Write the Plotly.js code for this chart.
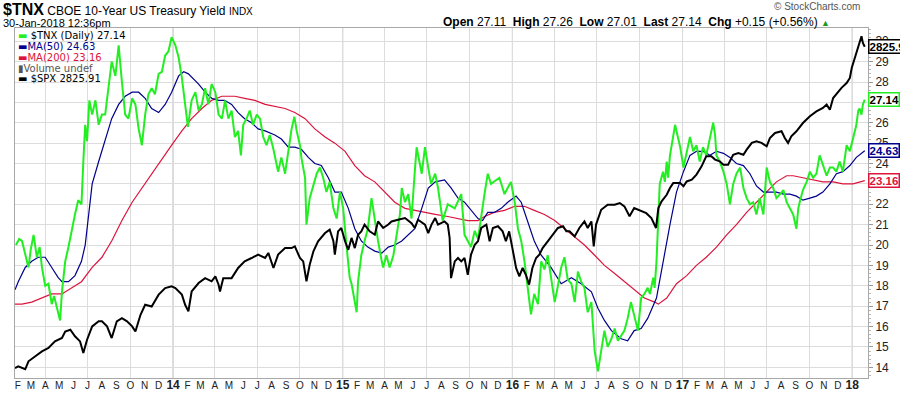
<!DOCTYPE html>
<html><head><meta charset="utf-8">
<script src="https://cdn.plot.ly/plotly-3.0.1.min.js"></script>
<style>html,body{margin:0;padding:0;background:#fff}#chart{width:900px;height:396px}</style>
</head><body><div id="chart"></div>
<script>
// ---- data ----
const tnxDates = ["2013-01-28","2013-02-04","2013-02-10","2013-02-17","2013-02-24","2013-03-01","2013-03-07","2013-03-14","2013-03-20","2013-03-25","2013-04-01","2013-04-08","2013-04-15","2013-04-20","2013-04-26","2013-05-03","2013-05-07","2013-05-14","2013-05-21","2013-05-28","2013-06-04","2013-06-11","2013-06-18","2013-06-22","2013-06-26","2013-06-30","2013-07-05","2013-07-11","2013-07-18","2013-07-25","2013-08-01","2013-08-08","2013-08-15","2013-08-22","2013-08-30","2013-09-06","2013-09-13","2013-09-20","2013-09-27","2013-10-05","2013-10-12","2013-10-19","2013-10-26","2013-11-02","2013-11-09","2013-11-16","2013-11-23","2013-12-01","2013-12-08","2013-12-15","2013-12-22","2013-12-29","2014-01-06","2014-01-13","2014-01-20","2014-01-27","2014-02-02","2014-02-10","2014-02-18","2014-02-25","2014-03-04","2014-03-11","2014-03-18","2014-03-25","2014-04-02","2014-04-09","2014-04-16","2014-04-23","2014-04-30","2014-05-07","2014-05-14","2014-05-21","2014-05-27","2014-06-01","2014-06-08","2014-06-15","2014-06-22","2014-06-30","2014-07-07","2014-07-14","2014-07-21","2014-07-28","2014-08-04","2014-08-15","2014-08-22","2014-08-30","2014-09-06","2014-09-13","2014-09-19","2014-09-24","2014-10-01","2014-10-04","2014-10-12","2014-10-15","2014-10-22","2014-10-30","2014-11-06","2014-11-13","2014-11-20","2014-11-27","2014-12-04","2014-12-12","2014-12-19","2014-12-26","2015-01-02","2015-01-09","2015-01-16","2015-01-20","2015-01-27","2015-01-31","2015-02-03","2015-02-10","2015-02-17","2015-02-24","2015-03-04","2015-03-11","2015-03-18","2015-03-26","2015-03-29","2015-04-05","2015-04-12","2015-04-20","2015-04-27","2015-05-04","2015-05-08","2015-05-15","2015-05-22","2015-05-29","2015-06-05","2015-06-09","2015-06-20","2015-06-27","2015-07-04","2015-07-10","2015-07-19","2015-07-25","2015-08-04","2015-08-15","2015-08-30","2015-09-13","2015-09-20","2015-10-04","2015-10-12","2015-10-19","2015-11-02","2015-11-09","2015-11-16","2015-12-04","2015-12-15","2015-12-29","2016-01-06","2016-01-13","2016-01-20","2016-01-27","2016-02-03","2016-02-10","2016-02-17","2016-02-25","2016-03-03","2016-03-10","2016-03-17","2016-03-24","2016-04-01","2016-04-08","2016-04-15","2016-04-22","2016-04-29","2016-05-07","2016-05-14","2016-05-21","2016-05-28","2016-06-04","2016-06-11","2016-06-19","2016-06-26","2016-07-03","2016-07-10","2016-07-17","2016-07-24","2016-08-01","2016-08-08","2016-08-15","2016-08-29","2016-09-05","2016-09-12","2016-09-19","2016-09-27","2016-10-04","2016-10-11","2016-10-18","2016-10-23","2016-10-30","2016-11-02","2016-11-06","2016-11-10","2016-11-13","2016-11-20","2016-11-24","2016-11-28","2016-12-01","2016-12-05","2016-12-16","2016-12-19","2016-12-27","2017-01-03","2017-01-10","2017-01-17","2017-01-24","2017-01-31","2017-02-07","2017-02-14","2017-02-21","2017-03-01","2017-03-08","2017-03-12","2017-03-15","2017-03-22","2017-03-30","2017-04-06","2017-04-13","2017-04-20","2017-04-27","2017-05-05","2017-05-12","2017-05-19","2017-05-26","2017-06-02","2017-06-09","2017-06-16","2017-06-24","2017-07-01","2017-07-08","2017-07-15","2017-07-22","2017-07-30","2017-08-06","2017-08-13","2017-08-20","2017-08-27","2017-09-03","2017-09-07","2017-09-10","2017-09-17","2017-09-25","2017-10-02","2017-10-09","2017-10-16","2017-10-23","2017-10-30","2017-11-07","2017-11-14","2017-11-21","2017-11-28","2017-12-05","2017-12-12","2017-12-20","2017-12-27","2018-01-03","2018-01-07","2018-01-10","2018-01-14","2018-01-17","2018-01-21","2018-01-24","2018-01-28"];
const tnxValues = [20.0,20.3,20.2,19.6,18.9,19.8,20.5,19.4,19.9,18.9,18.0,18.1,17.1,17.5,16.9,16.3,17.7,19.2,19.9,20.8,21.5,22.2,22.0,24.1,25.9,25.1,27.1,26.4,27.1,25.9,26.4,26.4,27.7,29.0,28.3,29.8,28.0,26.4,26.2,27.2,26.9,25.7,24.9,26.4,27.4,27.7,27.4,28.4,28.5,29.3,29.5,30.2,29.8,29.2,28.2,26.9,25.8,27.1,27.5,26.6,26.9,27.7,26.9,27.9,27.5,26.4,26.2,27.1,26.2,26.6,25.3,25.6,24.4,25.9,26.2,26.6,25.9,26.4,26.2,25.3,24.9,25.4,24.8,23.6,24.3,23.5,24.6,25.7,26.3,25.6,24.9,24.3,23.3,21.0,22.3,23.0,23.5,23.8,23.3,22.6,23.1,21.8,21.3,22.6,21.8,20.0,18.4,18.1,17.2,16.7,18.2,19.5,20.2,20.8,22.3,21.2,20.2,19.2,18.9,19.5,18.9,19.5,20.5,21.5,22.8,22.1,22.5,21.3,23.6,24.8,23.5,24.8,23.8,23.0,23.5,22.8,21.2,22.0,21.8,22.5,20.5,19.9,20.7,20.3,22.5,23.5,23.0,23.3,22.5,23.1,22.1,20.8,20.2,19.2,17.9,16.6,17.6,17.1,19.2,18.8,19.5,18.4,17.2,18.0,18.9,19.4,18.3,18.1,17.2,18.7,18.2,17.9,16.7,17.2,14.8,13.8,14.9,15.8,15.0,15.4,15.9,15.3,15.8,16.4,17.2,16.6,15.8,17.4,17.6,17.9,17.6,18.4,17.9,19.2,21.8,23.0,23.6,23.1,24.1,23.3,24.4,25.9,25.6,24.8,23.8,24.6,25.3,24.6,24.9,24.1,24.8,24.4,25.3,26.0,25.4,24.4,24.1,23.6,23.0,22.0,23.0,23.5,23.8,22.8,22.3,22.0,22.1,21.5,22.3,21.5,23.8,23.1,22.8,22.3,22.5,22.7,22.1,21.8,21.5,20.8,21.8,22.1,22.7,23.1,23.6,23.3,23.5,24.4,23.9,23.4,23.8,23.8,23.6,24.1,23.6,24.9,24.6,25.3,25.6,25.9,26.6,26.7,26.4,26.9,27.14];

const ma50Dates = ["2013-01-26","2013-02-02","2013-02-17","2013-03-03","2013-03-17","2013-04-01","2013-04-15","2013-04-29","2013-05-07","2013-05-21","2013-06-04","2013-06-18","2013-06-26","2013-07-03","2013-07-11","2013-07-25","2013-08-08","2013-08-22","2013-09-06","2013-09-20","2013-10-05","2013-10-19","2013-11-02","2013-11-16","2013-12-01","2013-12-15","2013-12-29","2014-01-13","2014-01-24","2014-02-03","2014-02-25","2014-03-11","2014-03-25","2014-04-09","2014-04-22","2014-05-07","2014-05-21","2014-06-04","2014-06-19","2014-07-03","2014-07-18","2014-08-08","2014-08-22","2014-09-06","2014-09-20","2014-10-04","2014-10-19","2014-11-02","2014-11-16","2014-12-01","2014-12-15","2014-12-29","2015-01-13","2015-01-27","2015-02-10","2015-02-24","2015-03-11","2015-03-26","2015-04-09","2015-04-23","2015-05-08","2015-05-22","2015-06-05","2015-06-20","2015-07-04","2015-07-19","2015-08-08","2015-08-22","2015-09-06","2015-09-20","2015-10-04","2015-10-19","2015-10-29","2015-11-09","2015-11-23","2015-12-08","2015-12-22","2016-01-09","2016-01-20","2016-02-03","2016-02-17","2016-03-03","2016-03-24","2016-04-15","2016-05-07","2016-05-28","2016-06-19","2016-07-03","2016-07-17","2016-08-01","2016-08-22","2016-09-05","2016-09-19","2016-10-04","2016-10-18","2016-11-06","2016-11-20","2016-12-05","2016-12-19","2017-01-03","2017-01-17","2017-01-31","2017-02-14","2017-03-01","2017-03-15","2017-03-30","2017-04-13","2017-04-27","2017-05-12","2017-05-26","2017-06-09","2017-06-24","2017-07-08","2017-07-22","2017-08-06","2017-08-20","2017-09-03","2017-09-17","2017-10-02","2017-10-16","2017-10-30","2017-11-14","2017-11-28","2017-12-12","2017-12-27","2018-01-10","2018-01-28"];
const ma50Values = [17.8,18.2,18.9,19.2,19.4,19.4,18.9,18.4,18.2,18.2,18.5,19.2,20.0,21.5,23.0,24.1,25.1,26.2,26.9,27.3,27.5,27.5,27.2,26.7,26.5,26.9,27.5,28.3,28.5,28.4,27.9,27.5,27.2,27.1,27.1,26.9,26.5,26.2,26.0,25.7,25.6,25.4,25.2,24.8,24.8,24.7,24.3,24.0,23.9,23.3,22.6,22.6,21.8,20.8,20.2,19.9,19.7,19.6,19.9,20.0,20.2,20.5,20.8,21.8,22.8,23.1,23.2,22.8,22.3,22.1,21.7,21.3,21.2,21.6,21.6,21.8,22.1,22.4,22.1,21.2,20.2,19.5,18.9,18.1,18.4,18.1,17.7,16.9,16.3,15.8,15.4,15.3,15.8,15.9,16.4,17.4,19.2,21.0,22.6,23.6,24.4,24.6,24.6,24.4,24.6,24.5,24.3,24.0,23.9,23.5,22.9,22.6,22.6,22.6,22.5,22.5,22.4,22.2,22.3,22.4,22.6,23.0,23.5,23.6,23.9,24.3,24.63];

const ma200Dates = ["2013-01-26","2013-02-10","2013-03-03","2013-03-25","2013-04-15","2013-05-07","2013-05-28","2013-06-18","2013-07-11","2013-08-01","2013-08-22","2013-09-13","2013-10-05","2013-10-26","2013-11-16","2013-12-08","2013-12-29","2014-01-20","2014-02-10","2014-03-04","2014-03-25","2014-04-16","2014-05-14","2014-06-04","2014-06-26","2014-07-18","2014-08-08","2014-08-30","2014-09-20","2014-10-12","2014-11-02","2014-11-24","2014-12-15","2015-01-06","2015-01-27","2015-02-17","2015-03-11","2015-04-02","2015-04-23","2015-05-15","2015-06-05","2015-06-27","2015-07-19","2015-08-15","2015-09-06","2015-09-27","2015-10-19","2015-11-02","2015-11-23","2015-12-15","2016-01-06","2016-01-27","2016-02-17","2016-03-10","2016-04-01","2016-04-22","2016-05-14","2016-06-04","2016-06-26","2016-07-17","2016-08-08","2016-08-29","2016-09-19","2016-10-11","2016-11-02","2016-11-10","2016-11-28","2016-12-19","2017-01-10","2017-01-31","2017-02-21","2017-03-15","2017-04-06","2017-04-27","2017-05-19","2017-06-09","2017-07-01","2017-07-22","2017-08-13","2017-08-27","2017-09-17","2017-10-09","2017-10-30","2017-11-21","2017-12-12","2018-01-03","2018-01-28"];
const ma200Values = [17.1,17.1,17.2,17.4,17.6,17.6,17.9,18.2,18.9,19.4,20.2,21.2,22.1,22.8,23.5,24.2,24.9,25.6,26.2,26.7,27.1,27.3,27.3,27.2,27.1,26.9,26.8,26.7,26.5,26.2,25.7,25.3,25.0,24.6,23.9,23.4,23.1,22.6,22.1,21.8,21.7,21.6,21.5,21.4,21.3,21.2,21.2,21.4,21.6,21.7,21.9,21.9,21.7,21.5,21.2,20.8,20.4,20.0,19.5,19.0,18.6,18.2,17.8,17.4,17.2,17.1,17.4,18.1,18.5,19.0,19.4,19.9,20.5,21.0,21.6,22.1,22.6,23.1,23.4,23.4,23.3,23.2,23.1,23.1,23.0,23.0,23.16];

const spxDates = ["2013-01-26","2013-02-02","2013-02-17","2013-02-24","2013-03-10","2013-03-25","2013-04-08","2013-04-22","2013-05-07","2013-05-14","2013-05-25","2013-06-04","2013-06-15","2013-06-22","2013-06-30","2013-07-11","2013-07-25","2013-08-01","2013-08-12","2013-08-22","2013-09-02","2013-09-13","2013-09-24","2013-10-05","2013-10-12","2013-10-23","2013-11-02","2013-11-16","2013-12-01","2013-12-15","2013-12-29","2014-01-06","2014-01-20","2014-01-27","2014-02-03","2014-02-10","2014-02-25","2014-03-11","2014-03-25","2014-04-02","2014-04-09","2014-04-12","2014-04-19","2014-04-30","2014-05-07","2014-05-21","2014-06-04","2014-06-19","2014-07-03","2014-07-18","2014-07-25","2014-08-05","2014-08-15","2014-08-30","2014-09-13","2014-09-20","2014-10-01","2014-10-08","2014-10-15","2014-10-22","2014-10-30","2014-11-09","2014-11-24","2014-12-04","2014-12-12","2014-12-15","2014-12-22","2014-12-29","2015-01-06","2015-01-13","2015-01-20","2015-01-27","2015-02-03","2015-02-10","2015-02-17","2015-02-28","2015-03-11","2015-03-18","2015-03-29","2015-04-09","2015-04-16","2015-04-30","2015-05-15","2015-05-29","2015-06-05","2015-06-12","2015-06-27","2015-07-04","2015-07-11","2015-07-19","2015-07-25","2015-08-08","2015-08-15","2015-08-19","2015-08-22","2015-08-30","2015-09-06","2015-09-13","2015-09-20","2015-09-27","2015-10-04","2015-10-12","2015-10-19","2015-10-26","2015-11-06","2015-11-13","2015-11-20","2015-12-01","2015-12-11","2015-12-18","2015-12-25","2016-01-01","2016-01-09","2016-01-16","2016-01-23","2016-01-30","2016-02-06","2016-02-13","2016-02-21","2016-02-28","2016-03-06","2016-03-17","2016-03-28","2016-04-08","2016-04-19","2016-04-26","2016-05-03","2016-05-14","2016-05-24","2016-06-04","2016-06-11","2016-06-19","2016-06-24","2016-06-29","2016-07-10","2016-07-24","2016-08-08","2016-08-19","2016-08-29","2016-09-09","2016-09-19","2016-10-04","2016-10-15","2016-10-26","2016-11-05","2016-11-10","2016-11-17","2016-11-28","2016-12-05","2016-12-12","2016-12-27","2017-01-03","2017-01-10","2017-01-21","2017-01-31","2017-02-11","2017-02-21","2017-03-04","2017-03-12","2017-03-22","2017-03-30","2017-04-09","2017-04-20","2017-05-01","2017-05-12","2017-05-19","2017-05-30","2017-06-09","2017-06-20","2017-07-01","2017-07-08","2017-07-19","2017-08-02","2017-08-09","2017-08-16","2017-08-23","2017-09-03","2017-09-17","2017-10-02","2017-10-16","2017-10-30","2017-11-07","2017-11-14","2017-11-21","2017-12-02","2017-12-09","2017-12-20","2017-12-27","2017-12-31","2018-01-07","2018-01-14","2018-01-21","2018-01-24","2018-01-28"];
const spxValues = [1500,1507,1495,1528,1548,1569,1583,1610,1624,1651,1658,1631,1610,1562,1617,1672,1693,1693,1672,1624,1693,1706,1693,1672,1651,1720,1761,1754,1803,1830,1837,1830,1803,1761,1734,1816,1851,1871,1858,1878,1844,1816,1871,1871,1871,1913,1940,1954,1968,1954,1975,1913,1968,1995,1995,2002,1954,1940,1858,1926,1982,2023,2057,2071,2023,1968,2064,2078,2023,1988,2037,1995,2050,2064,2092,2064,2050,2105,2078,2092,2105,2112,2119,2098,2078,2112,2092,2057,2092,2119,2092,2105,2092,2037,1871,1940,1954,1940,1954,1885,1968,2009,2023,2078,2092,2023,2078,2085,2064,2023,2064,1995,1913,1878,1913,1885,1844,1913,1954,1968,1995,2023,2050,2078,2085,2064,2064,2043,2078,2105,2078,2105,2002,2092,2153,2174,2174,2181,2167,2126,2160,2146,2139,2119,2078,2160,2188,2215,2243,2263,2263,2250,2270,2277,2298,2332,2374,2374,2360,2353,2339,2339,2380,2387,2380,2401,2429,2436,2429,2415,2449,2470,2477,2449,2429,2456,2477,2511,2539,2559,2573,2587,2566,2614,2642,2656,2676,2697,2738,2779,2821,2869,2841,2825.91];

const monthLetters = ["J","F","M","A","M","J","J","A","S","O","N","D"];
const yearLabels = ["13","14","15","16","17","18"];
const yTicks = [14,15,16,17,18,19,20,21,22,23,24,25,26,27,28,29,30];
const yTickText = ["14","15","16","17","18","19","20","21","22","","24","25","26","","28","29","30"];

// ---- ticks ----
const monthVals = [], monthText = [], quarterVals = [];
yearLabels.forEach((yl, yi) => {
  const yr = 2013 + yi;
  monthLetters.forEach((m, mi) => {
    const d = yr + "-" + String(mi + 1).padStart(2, "0") + "-01";
    if (d < "2013-02-01" || d > "2018-01-01") return;
    monthVals.push(d);
    monthText.push(mi === 0 ? '<span style="font-size:12px"><b>' + yl + '</b></span>' : m);
    if (mi % 3 === 0) quarterVals.push(d);
  });
});
const yearLines = yearLabels.slice(1).map((yl, i) => (2014 + i) + "-01-01");

const xRange = ["2013-01-26", "2018-02-04"];
const FONT = "Liberation Sans, Arial, sans-serif";
const LEG = "DejaVu Sans, Verdana, sans-serif";

const traces = [
  {x: ma200Dates, y: ma200Values, mode: "lines", line: {color: "#dc143c", width: 1.2}, showlegend: false, hoverinfo: "skip"},
  {x: ma50Dates, y: ma50Values, mode: "lines", line: {color: "#00008b", width: 1.2}, showlegend: false, hoverinfo: "skip"},
  {x: tnxDates, y: tnxValues, mode: "lines", line: {color: "#22ee22", width: 2}, showlegend: false, hoverinfo: "skip"},
  {x: spxDates, y: spxValues, xaxis: "x2", yaxis: "y2", mode: "lines", line: {color: "#000000", width: 2}, showlegend: false, hoverinfo: "skip"}
];

function legendRow(html, yshift) {
  return {xref: "paper", yref: "paper", x: 0, y: 1, xanchor: "left", yanchor: "middle", xshift: 2, yshift: yshift,
    text: html, showarrow: false, borderpad: 0, font: {family: LEG, size: 10, color: "#000"}};
}
function callout(yref, yv, txt, border, color) {
  return {xref: "paper", yref: yref, x: 1, y: yv, xanchor: "left", yanchor: "middle", xshift: 0,
    text: "<b>" + txt + "</b>", showarrow: false, bgcolor: "#fff", bordercolor: border, borderwidth: 1.5, borderpad: 0,
    font: {family: FONT, size: 11.5, color: color}};
}

const layout = {
  width: 900, height: 396,
  margin: {l: 15, r: 32, t: 28, b: 18},
  paper_bgcolor: "#fff", plot_bgcolor: "#fff",
  showlegend: false,
  xaxis: {type: "date", range: xRange, tickmode: "array", tickvals: quarterVals, showticklabels: false,
    showgrid: true, gridcolor: "#dcdcdc", gridwidth: 1, ticks: "", zeroline: false,
    showline: true, mirror: true, linecolor: "#a8a8a8", linewidth: 1},
  xaxis2: {type: "date", range: xRange, overlaying: "x", anchor: "y", side: "bottom", tickmode: "array",
    tickvals: monthVals, ticktext: monthText, showgrid: false, ticks: "", zeroline: false, showline: false,
    tickfont: {family: FONT, size: 10, color: "#222"}},
  yaxis: {range: [13.475, 30.65], side: "right", tickmode: "array", tickvals: yTicks, ticktext: yTickText,
    showgrid: true, gridcolor: "#dcdcdc", zeroline: false, ticks: "outside", ticklen: 4, tickcolor: "#999",
    showline: true, mirror: true, linecolor: "#a8a8a8", linewidth: 1,
    minor: {dtick: 0.2, ticks: "outside", ticklen: 2, tickcolor: "#bbb", showgrid: false},
    tickfont: {family: FONT, size: 12, color: "#222"}},
  yaxis2: {range: [1459, 2903], overlaying: "y", anchor: "x2", visible: false, showgrid: false, zeroline: false},
  shapes: yearLines.map(d => ({type: "line", xref: "x", yref: "paper", x0: d, x1: d, y0: 0, y1: 1,
    line: {color: "#b4b4b4", width: 1}, layer: "below"})),
  annotations: [
    {xref: "paper", yref: "paper", x: 0, y: 1, xanchor: "left", yanchor: "bottom", xshift: -14, yshift: 8,
      text: '<span style="font-size:16px"><b>$TNX</b></span> CBOE 10-Year US Treasury Yield <span style="font-size:10px">INDX</span>',
      showarrow: false, font: {family: FONT, size: 12, color: "#000"}},
    {xref: "paper", yref: "paper", x: 0, y: 1, xanchor: "left", yanchor: "bottom", xshift: -14, yshift: -3,
      text: "30-Jan-2018 12:36pm", showarrow: false, font: {family: FONT, size: 11, color: "#000"}},
    {xref: "paper", yref: "paper", x: 0.958, y: 1, xanchor: "right", yanchor: "bottom", yshift: -3,
      text: '<b>Open</b> 27.11  <b>High</b> 27.26  <b>Low</b> 27.01  <b>Last</b> 27.14  <b>Chg</b> +0.15 (+0.56%) <span style="color:#1a9a1a;font-size:9px">▲</span>',
      showarrow: false, font: {family: FONT, size: 12, color: "#000"}},
    {xref: "paper", yref: "paper", x: 1, y: 1, xanchor: "right", yanchor: "bottom", xshift: -6, yshift: 14,
      text: "© StockCharts.com", showarrow: false, font: {family: FONT, size: 10, color: "#555"}},
    legendRow('<span style="color:#22ee22">▬</span> $TNX (Daily) 27.14', -7),
    legendRow('<span style="color:#00008b">▬MA(50) 24.63</span>', -18),
    legendRow('<span style="color:#dc143c">▬MA(200) 23.16</span>', -29),
    legendRow('<span style="color:#555">▮Volume undef</span>', -40),
    legendRow('<span style="color:#000">▬ $SPX 2825.91</span>', -50),
    callout("y2", 2825.91, "2825.91", "#000", "#000"),
    callout("y", 27.14, "27.14", "#22ee22", "#000"),
    callout("y", 24.63, "24.63", "#00008b", "#00008b"),
    callout("y", 23.16, "23.16", "#dc143c", "#dc143c")
  ]
};

Plotly.newPlot("chart", traces, layout, {staticPlot: true, displayModeBar: false});
</script>
</body></html>
